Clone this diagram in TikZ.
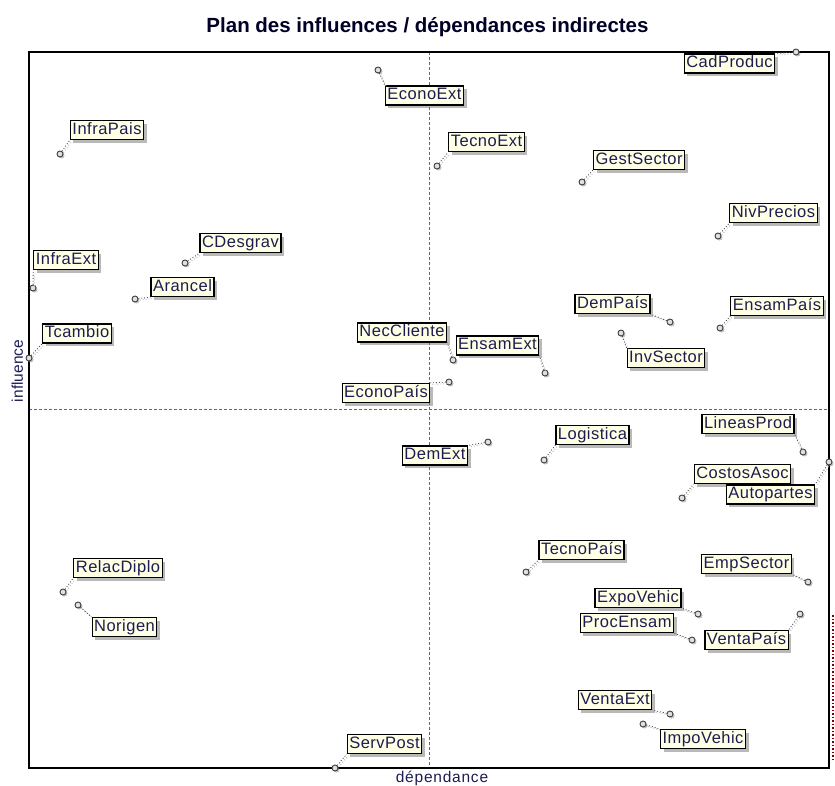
\documentclass[tikz,border=0pt]{standalone}
\usepackage{fontspec}
\setmainfont{Liberation Sans}
\usepackage{tikz}
\usetikzlibrary{shadows}

\definecolor{labtext}{RGB}{28,28,84}
\definecolor{labfill}{RGB}{255,255,230}

\begin{document}
\begin{tikzpicture}[x=1pt,y=-1pt,
    lab/.style={draw=black, line width=1.2pt, fill=labfill, text=labtext, inner xsep=2pt, inner ysep=0pt,
      text height=12pt, text depth=3.5pt, minimum height=19pt,
      font=\fontsize{16.5}{18}\selectfont\addfontfeature{LetterSpace=3},
      drop shadow={shadow xshift=3pt, shadow yshift=-3pt, fill=black!55}},
    pnt/.style={circle, draw=black!75, fill=black!12, line width=0.9pt, inner sep=0pt, minimum size=6pt,
      drop shadow={shadow xshift=1.5pt, shadow yshift=-1.5pt, fill=black!50}},
    lead/.style={black!70, line width=0.9pt, dotted,
      preaction={draw, black!30, line width=0.9pt, dotted, transform canvas={shift={(1.5pt,-1.5pt)}}}},
    axe/.style={black!60, line width=0.7pt, dash pattern=on 3pt off 2pt}]
  \useasboundingbox (0,0) rectangle (835,785);

  % cadre et axes
  \coordinate (nw) at (29,52); \coordinate (se) at (829,768);
  \coordinate (top) at (429,52); \coordinate (bot) at (429,768);
  \coordinate (lft) at (29,409); \coordinate (rgt) at (829,409);
  \draw[axe] (top) -- (bot); \draw[axe] (lft) -- (rgt);
  \draw[line width=1.3pt] (nw) rectangle (se);

  \node[anchor=base, font=\bfseries\fontsize{20.5}{24}\selectfont, text=black!85!blue] (title) at (427.5,32)
    {Plan des influences / dépendances indirectes};
  \node[anchor=base, font=\fontsize{15.5}{18}\selectfont\addfontfeature{LetterSpace=5}, text=labtext] (dep) at (442,782) {dépendance};
  \node[anchor=base, rotate=90, font=\fontsize{15.5}{18}\selectfont, text=labtext] (inf) at (23,371) {influence};
  \draw[dotted, red!50!black, line width=1.5pt] (833,615) -- (833,762);

  % quadrant haut gauche
  \node[lab] (infp) at (107,130) {InfraPais}; \node[pnt] (infp-p) at (60,154) {}; \draw[lead] (infp-p) -- (infp.south west);
  \node[lab] (cdes) at (240.5,243) {CDesgrav}; \node[pnt] (cdes-p) at (185,263) {}; \draw[lead] (cdes-p) -- (cdes.south west);
  \node[lab] (infe) at (66,260) {InfraExt}; \node[pnt] (infe-p) at (33,288) {}; \draw[lead] (infe-p) -- (infe.south west);
  \node[lab] (aran) at (182.5,287) {Arancel}; \node[pnt] (aran-p) at (135,299) {}; \draw[lead] (aran-p) -- (aran.south west);
  \node[lab] (tcam) at (77,333.5) {Tcambio}; \node[pnt] (tcam-p) at (29,358) {}; \draw[lead] (tcam-p) -- (tcam.south west);
  \node[lab] (necc) at (402,332.5) {NecCliente}; \node[pnt] (necc-p) at (453,360) {}; \draw[lead] (necc-p) -- (necc.south east);
  \node[lab] (ecop) at (386,393) {EconoPaís}; \node[pnt] (ecop-p) at (449,382) {}; \draw[lead] (ecop-p) -- (ecop.north east);
  \node[lab] (ecoe) at (424.5,95.5) {EconoExt}; \node[pnt] (ecoe-p) at (378,70) {}; \draw[lead] (ecoe-p) -- (ecoe.north west);

  % quadrant haut droit
  \node[lab] (cad) at (729.5,63.5) {CadProduc}; \node[pnt] (cad-p) at (796,52) {}; \draw[lead] (cad-p) -- (cad.north east);
  \node[lab] (tece) at (486.5,142) {TecnoExt}; \node[pnt] (tece-p) at (437,166) {}; \draw[lead] (tece-p) -- (tece.south west);
  \node[lab] (gest) at (639,160) {GestSector}; \node[pnt] (gest-p) at (582,182) {}; \draw[lead] (gest-p) -- (gest.south west);
  \node[lab] (nivp) at (773.5,213) {NivPrecios}; \node[pnt] (nivp-p) at (718,236) {}; \draw[lead] (nivp-p) -- (nivp.south west);
  \node[lab] (demp) at (612.5,304) {DemPaís}; \node[pnt] (demp-p) at (670,322) {}; \draw[lead] (demp-p) -- (demp.south east);
  \node[lab] (ensp) at (777,306) {EnsamPaís}; \node[pnt] (ensp-p) at (720,328) {}; \draw[lead] (ensp-p) -- (ensp.south west);
  \node[lab] (invs) at (666,358) {InvSector}; \node[pnt] (invs-p) at (621,333) {}; \draw[lead] (invs-p) -- (invs.north west);
  \node[lab] (ense) at (497.5,345.5) {EnsamExt}; \node[pnt] (ense-p) at (545,373) {}; \draw[lead] (ense-p) -- (ense.south east);

  % quadrant bas droit
  \node[lab] (deme) at (435,455.5) {DemExt}; \node[pnt] (deme-p) at (488,442) {}; \draw[lead] (deme-p) -- (deme.north east);
  \node[lab] (logi) at (592.5,435) {Logistica}; \node[pnt] (logi-p) at (544,460) {}; \draw[lead] (logi-p) -- (logi.south west);
  \node[lab] (linp) at (748,424) {LineasProd}; \node[pnt] (linp-p) at (803,452) {}; \draw[lead] (linp-p) -- (linp.south east);
  \node[lab] (cost) at (742.5,474) {CostosAsoc}; \node[pnt] (cost-p) at (682,498) {}; \draw[lead] (cost-p) -- (cost.south west);
  \node[lab] (auto) at (770.5,494.5) {Autopartes}; \node[pnt] (auto-p) at (829,462) {}; \draw[lead] (auto-p) -- (auto.north east);
  \node[lab] (tecp) at (581.5,550) {TecnoPaís}; \node[pnt] (tecp-p) at (526,572) {}; \draw[lead] (tecp-p) -- (tecp.south west);
  \node[lab] (emps) at (746.5,564) {EmpSector}; \node[pnt] (emps-p) at (808,582) {}; \draw[lead] (emps-p) -- (emps.south east);
  \node[lab] (expv) at (638,598) {ExpoVehic}; \node[pnt] (expv-p) at (698,614) {}; \draw[lead] (expv-p) -- (expv.south east);
  \node[lab] (proc) at (627,623) {ProcEnsam}; \node[pnt] (proc-p) at (692,640) {}; \draw[lead] (proc-p) -- (proc.south east);
  \node[lab] (venp) at (746.5,640) {VentaPaís}; \node[pnt] (venp-p) at (800,614) {}; \draw[lead] (venp-p) -- (venp.north east);
  \node[lab] (vene) at (615,700) {VentaExt}; \node[pnt] (vene-p) at (670,714) {}; \draw[lead] (vene-p) -- (vene.south east);
  \node[lab] (impv) at (703,739) {ImpoVehic}; \node[pnt] (impv-p) at (643,724) {}; \draw[lead] (impv-p) -- (impv.north west);

  % quadrant bas gauche
  \node[lab] (reld) at (118,568) {RelacDiplo}; \node[pnt] (reld-p) at (63,592) {}; \draw[lead] (reld-p) -- (reld.south west);
  \node[lab] (nori) at (124.5,627) {Norigen}; \node[pnt] (nori-p) at (78,605) {}; \draw[lead] (nori-p) -- (nori.north west);
  \node[lab] (serv) at (384.5,744) {ServPost}; \node[pnt] (serv-p) at (335,768) {}; \draw[lead] (serv-p) -- (serv.south west);
\end{tikzpicture}
\end{document}
